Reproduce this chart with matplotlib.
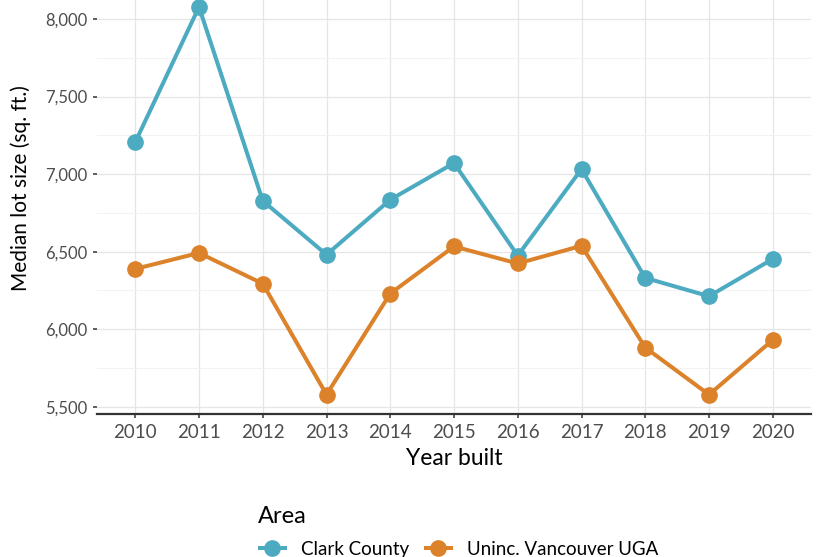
import numpy as np
import matplotlib
matplotlib.use("Agg")
import matplotlib.pyplot as plt
from matplotlib.ticker import FuncFormatter, MultipleLocator

plt.rcParams['font.family'] = ['Lato', 'DejaVu Sans']

# data
years = [2010, 2011, 2012, 2013, 2014, 2015, 2016, 2017, 2018, 2019, 2020]
clark_county = [7206, 8077, 6828, 6481, 6835, 7071, 6475, 7032, 6331, 6213, 6453]
vancouver_uga = [6389, 6492, 6294, 5579, 6230, 6534, 6424, 6538, 5882, 5579, 5931]
series_names = ["Clark County", "Uninc. Vancouver UGA"]
series_colors = ["#4CAAC1", "#DB822B"]

fig = plt.figure(figsize=(8.17, 5.57), dpi=100)
# panel runs a little past the top edge, as in the cropped original
ax = fig.add_axes([97/817, 143/557, 714/817, 426.4/557])

pos = np.arange(len(years))
for vals, name, col in zip([clark_county, vancouver_uga], series_names, series_colors):
    ax.plot(pos, vals, color=col, lw=2.9, marker='o', ms=11, label=name,
            solid_capstyle='butt', zorder=3)

# ggplot-like expansion: 0.6 units on the discrete x, 5% on y
ax.set_xlim(-0.6, len(years) - 1 + 0.6)
allv = np.array(clark_county + vancouver_uga)
span = allv.max() - allv.min()
ax.set_ylim(allv.min() - 0.05 * span, allv.max() + 0.05 * span)

ax.set_xticks(pos)
ax.set_xticklabels([str(y) for y in years])
ax.yaxis.set_major_locator(MultipleLocator(500))
ax.yaxis.set_minor_locator(MultipleLocator(250))
ax.yaxis.set_major_formatter(FuncFormatter(lambda v, p: f"{v:,.0f}"))

ax.grid(which='major', color='#e6e6e6', lw=0.9)
ax.grid(which='minor', axis='y', color='#f2f2f2', lw=0.7)
ax.set_axisbelow(True)
for s in ['top', 'right', 'left']:
    ax.spines[s].set_visible(False)
ax.spines['bottom'].set_color('#333333')
ax.spines['bottom'].set_linewidth(1.6)

ax.tick_params(axis='both', which='major', length=3, width=1.1, color='#333333',
               labelcolor='#4d4d4d', pad=4)
ax.tick_params(axis='x', labelsize=13.5)
ax.tick_params(axis='y', labelsize=12)
ax.tick_params(axis='y', which='minor', length=0)

ax.set_xlabel("Year built", fontsize=16.5, color='black', labelpad=5)
ax.set_ylabel("Median lot size (sq. ft.)", fontsize=15, color='black')
ax.yaxis.set_label_coords(-0.093, 0.529)

leg = fig.legend(loc='center', bbox_to_anchor=(458/817, 1 - 532/557), ncol=2,
                 title="Area", frameon=False, fontsize=13.5, title_fontsize=17,
                 handlelength=1.55, columnspacing=0.8, handletextpad=0.75,
                 labelspacing=0.7, alignment='left')

fig.savefig("out.png", dpi=100)
